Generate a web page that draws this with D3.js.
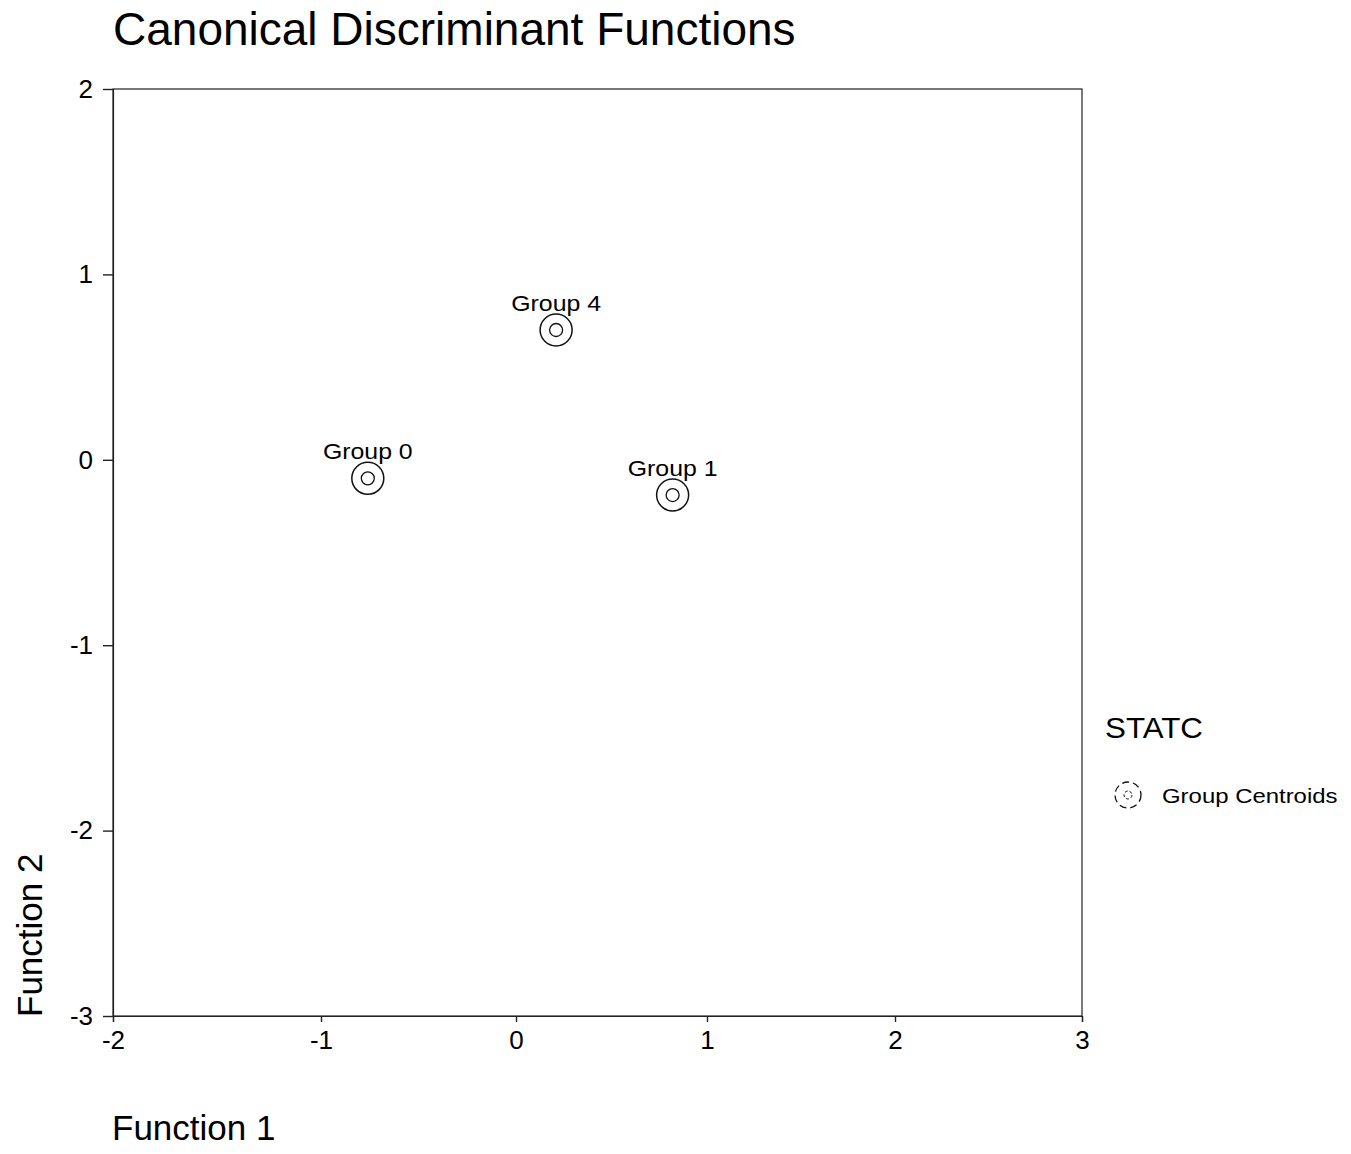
<!DOCTYPE html>
<html>
<head>
<meta charset="utf-8">
<script src="https://cdn.jsdelivr.net/npm/d3@7"></script>
<style>
  html, body { margin: 0; padding: 0; background: #fff; }
  svg text { font-family: Arial, "Liberation Sans", sans-serif; fill: #000; }
</style>
</head>
<body>
<svg id="chart" width="1351" height="1154"></svg>
<script>
// ---- data ----
const groups = ["Group 0", "Group 4", "Group 1"];
const function1 = [-0.76, 0.21, 0.82];
const function2 = [-0.10, 0.70, -0.19];
const xTicks = [-2, -1, 0, 1, 2, 3];
const yTicks = [-3, -2, -1, 0, 1, 2];
const legendTitle = "STATC";
const legendLabel = "Group Centroids";

(function () {
const svg = d3.select("#chart");
const pLeft = 113, pRight = 1082, pTop = 89, pBottom = 1016;

// x scale calibrated to the printed tick positions (the printed axis is not perfectly uniform)
const x = d3.scaleLinear().domain(xTicks).range([pLeft, 321, 516, 707, 895, pRight]);
const y = d3.scaleLinear().domain([-3, 2]).range([pBottom, pTop]);
const fmt = d => String(d).replace("\u2212", "-");

// title
svg.append("text")
  .attr("x", 113).attr("y", 45)
  .attr("font-size", 46)
  .text("Canonical Discriminant Functions");

// frame
svg.append("rect")
  .attr("x", pLeft).attr("y", pTop)
  .attr("width", pRight - pLeft).attr("height", pBottom - pTop)
  .attr("fill", "none").attr("stroke", "#222").attr("stroke-width", 1.2);

// axes
const xAxis = d3.axisBottom(x).tickValues(xTicks).tickFormat(fmt).tickSize(6).tickPadding(6);
const yAxis = d3.axisLeft(y).tickValues(yTicks).tickFormat(fmt).tickSize(10).tickPadding(10);

const gx = svg.append("g").attr("transform", `translate(0,${pBottom})`).call(xAxis);
const gy = svg.append("g").attr("transform", `translate(${pLeft},0)`).call(yAxis);
[gx, gy].forEach(g => {
  g.select(".domain").attr("stroke", "#222").attr("stroke-width", 1.2);
  g.selectAll(".tick line").attr("stroke", "#222").attr("stroke-width", 1.4);
  g.selectAll(".tick text").attr("font-size", 26).attr("font-family", "Arial, 'Liberation Sans', sans-serif").attr("fill", "#000");
});
gx.selectAll(".tick text").attr("dy", "0.8em");

// axis titles
svg.append("text")
  .attr("x", 112).attr("y", 1140)
  .attr("font-size", 35)
  .text("Function 1");
svg.append("text")
  .attr("transform", "translate(42,1017) rotate(-90)")
  .attr("font-size", 35)
  .text("Function 2");

// centroid markers
const pts = groups.map((g, i) => ({ name: g, fx: function1[i], fy: function2[i] }));
const marker = svg.append("g").selectAll("g").data(pts).join("g")
  .attr("transform", d => `translate(${x(d.fx)},${y(d.fy)})`);
marker.append("circle").attr("r", 16).attr("fill", "none").attr("stroke", "#111").attr("stroke-width", 1.5);
marker.append("circle").attr("r", 6.5).attr("fill", "none").attr("stroke", "#111").attr("stroke-width", 1.3);
marker.append("text")
  .attr("text-anchor", "middle")
  .attr("transform", "translate(0,-19) scale(1.13,1)")
  .attr("font-size", 22)
  .text(d => d.name);

// legend
svg.append("text")
  .attr("transform", "translate(1105,738) scale(1.08,1)")
  .attr("font-size", 29)
  .text(legendTitle);
const lg = svg.append("g").attr("transform", "translate(1128,795)");
lg.append("circle").attr("r", 13).attr("fill", "none").attr("stroke", "#111").attr("stroke-width", 1.3).attr("stroke-dasharray", "7,4");
lg.append("circle").attr("r", 4).attr("fill", "none").attr("stroke", "#111").attr("stroke-width", 1).attr("stroke-dasharray", "3,2");
svg.append("text")
  .attr("transform", "translate(1162,803) scale(1.14,1)")
  .attr("font-size", 21)
  .text(legendLabel);
})();
</script>
</body>
</html>
